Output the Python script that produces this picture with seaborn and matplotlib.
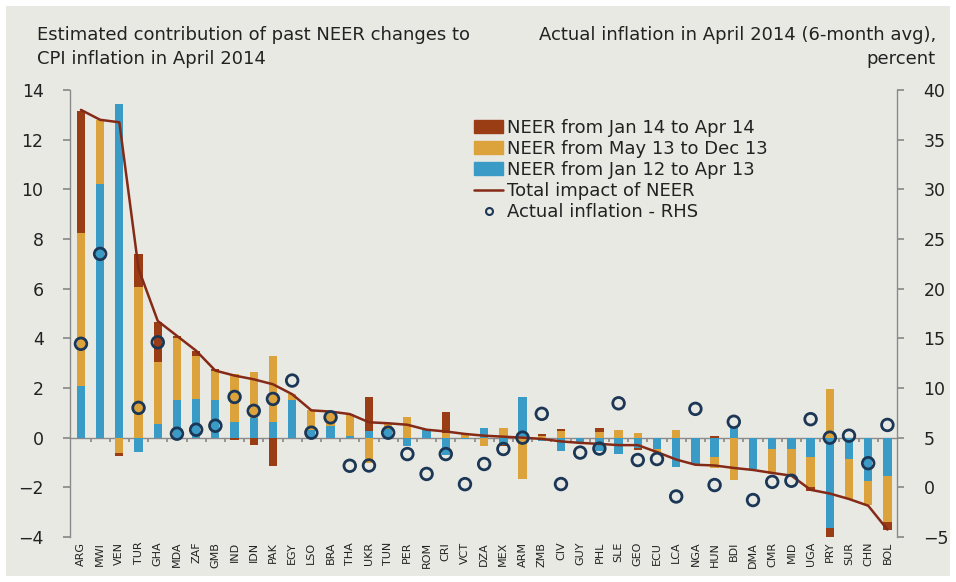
import numpy as np
import pandas as pd
import seaborn as sns
import matplotlib.pyplot as plt
from matplotlib.patches import Patch, Rectangle
from matplotlib.lines import Line2D

# data
countries = ['ARG', 'MWI', 'VEN', 'TUR', 'GHA', 'MDA', 'ZAF', 'GMB', 'IND', 'IDN', 'PAK',
             'EGY', 'LSO', 'BRA', 'THA', 'UKR', 'TUN', 'PER', 'ROM', 'CRI', 'VCT', 'DZA',
             'MEX', 'ARM', 'ZMB', 'CIV', 'GUY', 'PHL', 'SLE', 'GEO', 'ECU', 'LCA', 'NGA',
             'HUN', 'BDI', 'DMA', 'CMR', 'MID', 'UGA', 'PRY', 'SUR', 'CHN', 'BOL']

neer_jan12_apr13 = [2.1, 10.23, 13.43, -0.59, 0.55, 1.5, 1.56, 1.5, 0.62, 0.79, 0.64,
                    1.5, 0.3, 0.45, 0.05, 0.28, 0.35, -0.32, 0.3, -0.7, -0.05, 0.4,
                    -0.3, 1.65, -0.15, -0.52, -0.2, -0.52, -0.65, -0.42, -0.45, -1.18, -1.09,
                    -0.78, 0.42, -1.28, -0.45, -0.45, -0.78, -3.65, -0.86, -1.73, -1.53]

neer_may13_dec13 = [6.15, 2.55, -0.6, 6.06, 2.49, 2.5, 1.71, 1.2, 1.95, 1.84, 2.65,
                    0.25, 0.8, 0.6, 0.9, -1.0, 0.25, 0.85, 0.02, 0.2, 0.2, -0.32,
                    0.4, -1.65, 0.05, 0.25, 0.0, 0.23, 0.32, 0.2, -0.15, 0.3, 0.0,
                    -0.45, -1.7, 0.0, -1.0, -1.1, -1.22, 1.95, -1.6, -1.0, -1.88]

neer_jan14_apr14 = [4.9, 0.0, -0.15, 1.32, 1.62, 0.1, 0.24, 0.05, -0.08, -0.28, -1.13,
                    0.0, 0.0, 0.0, 0.0, 1.35, 0.0, 0.0, 0.0, 0.85, 0.0, 0.0,
                    -0.05, 0.0, 0.08, 0.1, 0.0, 0.17, 0.0, -0.08, 0.0, 0.0, 0.0,
                    0.08, 0.0, 0.0, 0.0, 0.0, -0.15, -0.45, 0.0, 0.0, -0.3]

total_impact = [13.2, 12.8, 12.7, 6.8, 4.7, 4.1, 3.5, 2.7, 2.5, 2.35, 2.15,
                1.75, 1.1, 1.05, 0.95, 0.62, 0.58, 0.52, 0.32, 0.25, 0.15, 0.08,
                0.04, 0.0, -0.05, -0.15, -0.21, -0.25, -0.3, -0.3, -0.58, -0.88, -1.09,
                -1.12, -1.22, -1.3, -1.42, -1.53, -2.1, -2.25, -2.47, -2.74, -3.7]

actual_inflation = [14.45, 23.5, np.nan, 8.0, 14.6, 5.4, 5.8, 6.2, 9.1, 7.7, 8.9,
                    10.75, 5.5, 7.05, 2.17, 2.2, 5.5, 3.35, 1.35, 3.35, 0.32, 2.35,
                    3.86, 5.0, 7.4, 0.33, 3.5, 3.9, 8.46, 2.75, 2.85, -0.92, 7.9,
                    0.23, 6.6, -1.28, 0.55, 0.66, 6.86, 5.0, 5.2, 2.43, 6.28]

series_names = ['NEER from Jan 12 to Apr 13', 'NEER from May 13 to Dec 13', 'NEER from Jan 14 to Apr 14']
series_colors = ['#3a9cc6', '#dca23b', '#9a3d15']

bg = '#e9e9e4'
txt = '#222222'
sns.set_theme(style='white')
plt.rcParams['font.family'] = ['DejaVu Sans']

df = pd.DataFrame({'country': countries,
                   series_names[0]: neer_jan12_apr13,
                   series_names[1]: neer_may13_dec13,
                   series_names[2]: neer_jan14_apr14,
                   'total': total_impact,
                   'inflation': actual_inflation})
df['pos'] = np.arange(len(df))

fig = plt.figure(figsize=(9.56, 5.82), dpi=100, facecolor='white')
fig.patches.append(Rectangle((6 / 956, 6 / 582), 944 / 956, 570 / 582,
                             transform=fig.transFigure, facecolor=bg, edgecolor='none', zorder=-10))
ax = fig.add_axes([70 / 956, 1 - 537 / 582, 827 / 956, 447 / 582])
ax.set_facecolor(bg)

# stacked bars, positives up and negatives down
pos_base = np.zeros(len(df))
neg_base = np.zeros(len(df))
for name, col in zip(series_names, series_colors):
    vals = df[name].values
    base = np.where(vals >= 0, pos_base, neg_base)
    ax.bar(df['pos'], vals, bottom=base, width=0.43, color=col, linewidth=0, zorder=2)
    pos_base = pos_base + np.clip(vals, 0, None)
    neg_base = neg_base + np.clip(vals, None, 0)

sns.lineplot(data=df, x='pos', y='total', color='#842a17', linewidth=1.8, ax=ax, zorder=3)

ax.set_ylim(-4, 14)
ax.set_yticks(np.arange(-4, 15, 2))
ax.set_xlim(-0.57, 42.5)
ax.set_xlabel('')
ax.set_ylabel('')

for s in ['top', 'right']:
    ax.spines[s].set_visible(False)
ax.spines['left'].set_color('#8a8a8a')
ax.spines['left'].set_linewidth(1)
ax.spines['bottom'].set_position(('data', 0))
ax.spines['bottom'].set_color('#8a8a8a')
ax.spines['bottom'].set_linewidth(1)
ax.spines['bottom'].set_zorder(1)

ax.set_xticks(df['pos'][:-1] + 0.5)
ax.set_xticklabels([])
ax.set_xticks(df['pos'], df['country'], minor=True, rotation=90)
ax.tick_params(axis='x', which='major', direction='out', length=3, color='#8a8a8a', bottom=True)
ax.tick_params(axis='x', which='minor', length=0, pad=75, labelsize=8, labelcolor=txt)
ax.tick_params(axis='y', direction='out', length=5, color='#8a8a8a', left=True, pad=14,
               labelsize=12.5, labelcolor=txt)

ax2 = ax.twinx()
sns.scatterplot(data=df, x='pos', y='inflation', ax=ax2, s=70, facecolor='none',
                edgecolor='#1c3756', linewidth=2, zorder=5)
ax2.set_ylim(-5, 40)
ax2.set_yticks(np.arange(-5, 41, 5))
ax2.set_ylabel('')
for s in ['top', 'left', 'bottom']:
    ax2.spines[s].set_visible(False)
ax2.spines['right'].set_color('#8a8a8a')
ax2.spines['right'].set_linewidth(1)
ax2.tick_params(axis='y', direction='out', length=5, color='#8a8a8a', right=True, pad=14,
                labelsize=12.5, labelcolor=txt)

handles = [Patch(color=series_colors[2]), Patch(color=series_colors[1]), Patch(color=series_colors[0]),
           Line2D([], [], color='#842a17', linewidth=1.8),
           Line2D([], [], linestyle='none', marker='o', markersize=5, markerfacecolor='none',
                  markeredgecolor='#1c3756', markeredgewidth=1.5)]
labels = [series_names[2], series_names[1], series_names[0], 'Total impact of NEER', 'Actual inflation - RHS']
leg = ax2.legend(handles, labels, loc='upper left', bbox_to_anchor=(0.48, 0.952), frameon=False,
                 fontsize=13, handlelength=1.6, handleheight=0.7, handletextpad=0.2, labelspacing=0.17,
                 borderaxespad=0)
for t in leg.get_texts():
    t.set_color(txt)

fig.text(37 / 956, 1 - 26 / 582, 'Estimated contribution of past NEER changes to\nCPI inflation in April 2014',
         ha='left', va='top', fontsize=13, color=txt, linespacing=1.4)
fig.text(936 / 956, 1 - 26 / 582, 'Actual inflation in April 2014 (6-month avg),\npercent',
         ha='right', va='top', fontsize=13, color=txt, linespacing=1.4, multialignment='right')

fig.savefig('out.png', dpi=100, facecolor=fig.get_facecolor())
